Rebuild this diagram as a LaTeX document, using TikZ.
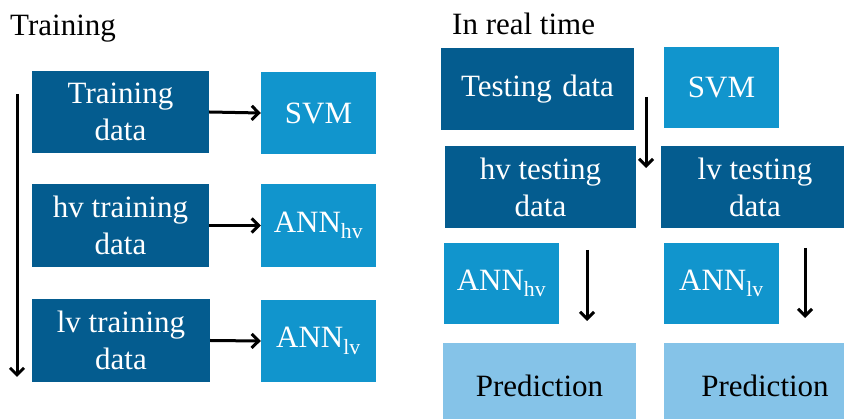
\documentclass[tikz,border=0pt]{standalone}
\usepackage{fontspec}
\setmainfont{Liberation Serif}
\usetikzlibrary{arrows.meta}
\definecolor{darkbox}{RGB}{4,92,143}
\definecolor{lightbox}{RGB}{17,149,205}
\definecolor{predbox}{RGB}{133,195,232}
\begin{document}
\begin{tikzpicture}[x=1pt,y=-1pt,
  every node/.style={font=\fontsize{31}{37}\selectfont, inner sep=0pt, align=center},
  dbox/.style={fill=darkbox, text=white},
  lbox/.style={fill=lightbox, text=white},
  pbox/.style={fill=predbox, text=black},
  flow/.style={line width=3pt, -{Straight Barb[length=7pt,width=14pt]}},
  title/.style={anchor=base west, text=black}]
\clip (0,0) rectangle (844,419);
\fill[white] (0,0) rectangle (844,419);
% titles
\node[title] (t1) at (10,36) {Training};
\node[title] (t2) at (452,35) {In real time};
% left column
\node[dbox, minimum width=177pt, minimum height=82pt] (trd) at (120.5,112) {Training\\data};
\node[lbox, minimum width=115pt, minimum height=82pt] (svmL) at (318.5,113) {SVM};
\node[dbox, minimum width=177pt, minimum height=83pt] (hvtr) at (120.5,225.5) {hv training\\data};
\node[lbox, minimum width=115pt, minimum height=83pt] (annhvL) at (318.5,225.5) {ANN\textsubscript{hv}};
\node[dbox, minimum width=178pt, minimum height=83pt] (lvtr) at (121,340.5) {lv training\\data};
\node[lbox, minimum width=115pt, minimum height=82pt] (annlvL) at (318.5,341) {ANN\textsubscript{lv}};
\draw[flow] (trd.east) -- (svmL.west);
\draw[flow] (hvtr.east) -- (annhvL.west);
\draw[flow] (lvtr.east) -- (annlvL.west);
\coordinate (va) at (17,94);
\coordinate (vb) at (17,377);
\draw[flow] (va) -- (vb);
% right part
\node[dbox, minimum width=193pt, minimum height=82pt] (test) at (537.5,89) {Testing\,\,data};
\node[lbox, minimum width=115pt, minimum height=81pt] (svmR) at (721.5,87.5) {SVM};
\node[dbox, minimum width=191pt, minimum height=82pt] (hvte) at (540.5,187) {hv testing\\data};
\node[dbox, minimum width=188pt, minimum height=82pt] (lvte) at (755,187) {lv testing\\data};
\node[lbox, minimum width=115pt, minimum height=81pt] (annhvR) at (501.5,283.5) {ANN\textsubscript{hv}};
\node[lbox, minimum width=115pt, minimum height=81pt] (annlvR) at (721.5,283.5) {ANN\textsubscript{lv}};
\node[pbox, minimum width=193pt, minimum height=86pt] (pred1) at (539.5,386) {Prediction};
\node[pbox, minimum width=202pt, minimum height=86pt] (pred2) at (765,386) {Prediction};
\coordinate (a1) at (646,97);
\coordinate (a2) at (646,168);
\coordinate (b1) at (587,250);
\coordinate (b2) at (587,321);
\coordinate (c1) at (805,248);
\coordinate (c2) at (805,318);
\draw[flow] (a1) -- (a2);
\draw[flow] (b1) -- (b2);
\draw[flow] (c1) -- (c2);
\end{tikzpicture}
\end{document}
